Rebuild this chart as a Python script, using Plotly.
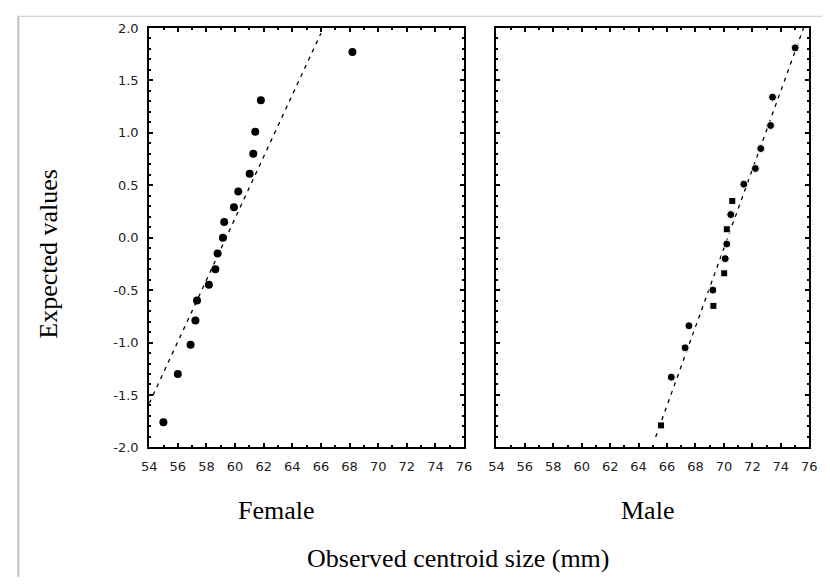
import plotly.graph_objects as go

# ---- data ----
female_x = [68.2, 61.8, 61.41, 61.27, 61.02, 60.22, 59.92, 59.24, 59.15, 58.78,
            58.62, 58.17, 57.34, 57.23, 56.89, 56.0, 54.99]
female_y = [1.77, 1.31, 1.01, 0.80, 0.61, 0.44, 0.29, 0.15, 0.0, -0.15,
            -0.30, -0.45, -0.60, -0.79, -1.02, -1.30, -1.76]
female_fit_x = [54.0, 66.0]
female_fit_y = [-1.58, 1.95]

male_x = [75.01, 73.42, 73.28, 72.59, 72.21, 71.4, 70.59, 70.48, 70.2, 70.2,
          70.09, 70.02, 69.22, 69.26, 67.54, 67.27, 66.3, 65.58]
male_y = [1.81, 1.34, 1.07, 0.85, 0.66, 0.51, 0.35, 0.22, 0.08, -0.06,
          -0.20, -0.34, -0.50, -0.65, -0.84, -1.05, -1.33, -1.79]
male_symbols = ["circle", "circle", "circle", "circle", "circle", "circle", "square",
                "circle", "square", "circle", "circle", "square", "circle", "square",
                "circle", "circle", "circle", "square"]
male_fit_x = [65.2, 75.6]
male_fit_y = [-1.9, 2.0]

x_ticks = list(range(54, 77, 2))
y_ticks = [-2.0, -1.5, -1.0, -0.5, 0.0, 0.5, 1.0, 1.5, 2.0]
y_tick_labels = ["-2.0", "-1.5", "-1.0", "-0.5", "0.0", "0.5", "1.0", "1.5", "2.0"]

panel_titles = ["Female", "Male"]
x_title = "Observed centroid size (mm)"
y_title = "Expected values"

W, H = 830, 585
fig = go.Figure()

line_style = dict(color="black", width=1.3, dash="4px,5px")

fig.add_trace(go.Scatter(x=female_fit_x, y=female_fit_y, mode="lines", line=line_style,
                         xaxis="x", yaxis="y", showlegend=False, hoverinfo="skip"))
fig.add_trace(go.Scatter(x=female_x, y=female_y, mode="markers",
                         marker=dict(symbol="circle", size=8, color="black", opacity=1),
                         xaxis="x", yaxis="y", showlegend=False))
fig.add_trace(go.Scatter(x=male_fit_x, y=male_fit_y, mode="lines", line=line_style,
                         xaxis="x2", yaxis="y2", showlegend=False, hoverinfo="skip"))
fig.add_trace(go.Scatter(x=male_x, y=male_y, mode="markers",
                         marker=dict(symbol=male_symbols,
                                     size=[8 if s == "circle" else 7 for s in male_symbols],
                                     color="black", opacity=1),
                         xaxis="x2", yaxis="y2", showlegend=False))

tickfont = dict(family="DejaVu Sans", size=13, color="#222")

def xaxis(domain, anchor):
    return dict(domain=domain, anchor=anchor, range=[54, 76], tickvals=x_ticks,
                ticks="inside", ticklen=4, tickwidth=1.5, tickcolor="black",
                minor=dict(dtick=1, ticks="inside", ticklen=2, tickwidth=1.5, tickcolor="black", showgrid=False),
                showline=True, linecolor="black", linewidth=2, mirror="ticks",
                showgrid=False, zeroline=False, tickfont=tickfont, fixedrange=True,
                ticklabelstandoff=6)

def yaxis(anchor, labels):
    return dict(domain=[1 - 452 / H, 1 - 21.5 / H], anchor=anchor, range=[-2, 2],
                tickvals=y_ticks, ticktext=y_tick_labels, showticklabels=labels,
                ticks="inside", ticklen=4, tickwidth=1.5, tickcolor="black",
                minor=dict(dtick=0.1, ticks="inside", ticklen=2, tickwidth=1.5, tickcolor="black", showgrid=False),
                showline=True, linecolor="black", linewidth=2, mirror="ticks",
                showgrid=False, zeroline=False, tickfont=tickfont, fixedrange=True,
                ticklabelstandoff=6)

title_font = dict(family="Liberation Serif", size=26, color="black")

fig.update_layout(
    width=W, height=H,
    margin=dict(l=0, r=0, t=0, b=0),
    paper_bgcolor="white", plot_bgcolor="white",
    xaxis=xaxis([144 / W, 465 / W], "y"),
    yaxis=yaxis("x", True),
    xaxis2=xaxis([498 / W, 817 / W], "y2"),
    yaxis2=yaxis("x2", False),
    shapes=[
        dict(type="line", xref="paper", yref="paper", x0=10.5 / W, x1=10.5 / W, y0=0, y1=1 - 9.5 / H,
             line=dict(color="#c0c0c0", width=2)),
        dict(type="line", xref="paper", yref="paper", x0=10 / W, x1=1, y0=1 - 9.5 / H, y1=1 - 9.5 / H,
             line=dict(color="#c8c8c8", width=1)),
    ],
    annotations=[
        dict(text=panel_titles[0], x=274 / W, y=1 - 517 / H, xref="paper", yref="paper",
             showarrow=False, xanchor="center", yanchor="middle", font=title_font),
        dict(text=panel_titles[1], x=652 / W, y=1 - 517 / H, xref="paper", yref="paper",
             showarrow=False, xanchor="center", yanchor="middle", font=title_font),
        dict(text=x_title, x=459 / W, y=1 - 566 / H, xref="paper", yref="paper",
             showarrow=False, xanchor="center", yanchor="middle", font=title_font),
        dict(text=y_title, x=41 / W, y=1 - 253 / H, xref="paper", yref="paper",
             showarrow=False, xanchor="center", yanchor="middle", textangle=-90, font=title_font),
    ],
)

fig.write_html("out.html")
